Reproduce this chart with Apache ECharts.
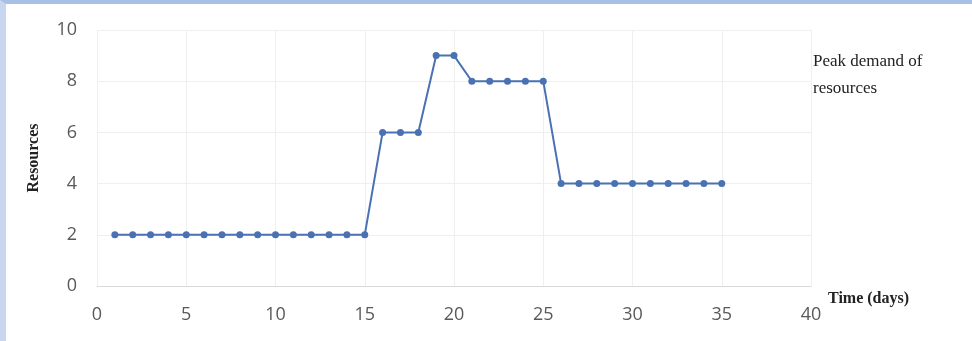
<!DOCTYPE html>
<html>
<head>
<meta charset="utf-8">
<script src="https://cdn.jsdelivr.net/npm/echarts@6/dist/echarts.min.js"></script>
<style>
  html, body { margin: 0; padding: 0; background: #fff; }
  #frame {
    width: 966px; height: 337px;
    border-top: 4px solid #a9c0e6;
    border-left: 6px solid #c9d6f0;
    position: relative; background: #fff;
  }
  #chart { width: 966px; height: 337px; position: absolute; left: 0; top: 0; }
</style>
</head>
<body>
<div id="frame"><div id="chart"></div></div>
<script>
  // days and peak resource demand
  var days = [1, 2, 3, 4, 5, 6, 7, 8, 9, 10, 11, 12, 13, 14, 15, 16, 17, 18,
              19, 20, 21, 22, 23, 24, 25, 26, 27, 28, 29, 30, 31, 32, 33, 34, 35];
  var resources = [2, 2, 2, 2, 2, 2, 2, 2, 2, 2, 2, 2, 2, 2, 2, 6, 6, 6,
                   9, 9, 8, 8, 8, 8, 8, 4, 4, 4, 4, 4, 4, 4, 4, 4, 4];

  var points = [];
  for (var i = 0; i < days.length; i++) {
    points.push([days[i], resources[i]]);
  }

  var chart = echarts.init(document.getElementById('chart'));
  chart.setOption({
    animation: false,
    grid: { left: 91, right: 161, top: 26, bottom: 55 },
    xAxis: {
      type: 'value', min: 0, max: 40, interval: 5,
      axisLine: { show: true, lineStyle: { color: '#d9d9d9' } },
      axisTick: { show: false },
      axisLabel: { color: '#595959', fontSize: 18, fontFamily: 'Open Sans', margin: 20 },
      splitLine: { show: true, lineStyle: { color: '#efefef' } }
    },
    yAxis: {
      type: 'value', min: 0, max: 10, interval: 2,
      axisLine: { show: false },
      axisTick: { show: false },
      axisLabel: { color: '#595959', fontSize: 18, fontFamily: 'Open Sans', margin: 20 },
      splitLine: { show: true, lineStyle: { color: '#efefef' } },
      name: 'Resources', nameLocation: 'middle', nameGap: 55, nameRotate: 90,
      nameTextStyle: { fontFamily: 'Liberation Serif', fontWeight: 'bold', fontSize: 16, color: '#222' }
    },
    graphic: [{
      type: 'text', left: 807, top: 44,
      style: {
        text: 'Peak demand of\nresources',
        font: '17px "Liberation Serif"', fill: '#222', lineHeight: 27
      }
    }, {
      type: 'text', left: 822, top: 287,
      style: {
        text: 'Time (days)',
        font: 'bold 16px "Liberation Serif"', fill: '#222'
      }
    }],
    series: [{
      type: 'line',
      data: points,
      symbol: 'circle', symbolSize: 7,
      lineStyle: { color: '#4a72b2', width: 2 },
      itemStyle: { color: '#4a72b2' }
    }]
  });
</script>
</body>
</html>
